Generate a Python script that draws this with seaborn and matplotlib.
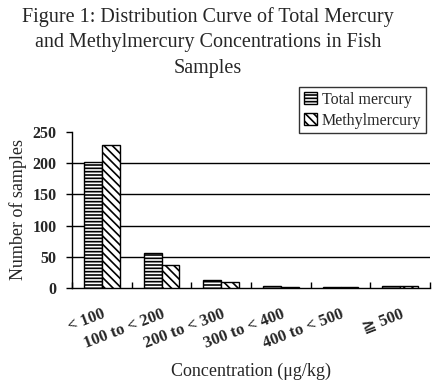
import pandas as pd
import seaborn as sns
import matplotlib.pyplot as plt
from matplotlib.patches import Patch
from matplotlib.ticker import FixedLocator

categories = ["< 100", "100 to < 200", "200 to < 300", "300 to < 400", "400 to < 500", "\u2267 500"]
total_mercury = [202, 56, 13, 3, 1, 3]
methylmercury = [229, 37, 10, 1, 1, 3]
series = ["Total mercury", "Methylmercury"]
hatches = {"Total mercury": "-----", "Methylmercury": "\\\\\\\\"}

sns.set_theme(style="white")
plt.rcParams["font.family"] = ["Liberation Serif", "DejaVu Serif", "DejaVu Sans", "Noto Sans CJK JP"]
plt.rcParams["hatch.linewidth"] = 1.2

df = pd.DataFrame({
    "cat": categories * 2,
    "value": total_mercury + methylmercury,
    "series": [series[0]] * 6 + [series[1]] * 6,
})

fig = plt.figure(figsize=(4.32, 3.87), dpi=100)
ax = fig.add_axes([72 / 432, 1 - 288 / 387, 358 / 432, 156 / 387])

sns.barplot(data=df, x="cat", y="value", hue="series", order=categories,
            hue_order=series, width=0.6, palette=["white", "white"],
            edgecolor="black", linewidth=1.0, saturation=1, ax=ax, legend=False)

for i, bar in enumerate(ax.patches[:12]):
    name = series[i // 6]
    bar.set_hatch(hatches[name])
    bar.set_zorder(3)

ax.set_ylim(0, 250)
ax.set_xlim(-0.5, 5.5)
ax.set_yticks([0, 50, 100, 150, 200, 250])
for yv in [50, 100, 150, 200]:
    ax.axhline(yv, color="black", linewidth=1.0, zorder=1)

ax.spines["top"].set_visible(False)
ax.spines["right"].set_visible(False)
for s in ["left", "bottom"]:
    ax.spines[s].set_color("black")
    ax.spines[s].set_linewidth(1.0)

ax.tick_params(axis="y", which="major", left=True, length=4, width=1, color="black",
               direction="out", labelsize=11.5, pad=7)
for lab in ax.get_yticklabels():
    lab.set_fontweight("bold")

ax.xaxis.set_minor_locator(FixedLocator([-0.5, 0.5, 1.5, 2.5, 3.5, 4.5, 5.5]))
ax.tick_params(axis="x", which="minor", bottom=True, length=4, width=1, color="black",
               direction="in")
ax.tick_params(axis="x", which="major", bottom=False, length=0, pad=13, labelsize=12)
ax.set_xticks(range(6))
ax.set_xticklabels(categories, rotation=21, ha="right", rotation_mode="anchor",
                   fontweight="bold")

ax.set_xlabel("Concentration (\u03bcg/kg)", fontsize=13, labelpad=8)
ax.set_ylabel("Number of samples", fontsize=13, labelpad=4)

title_lines = ["Figure 1: Distribution Curve of Total Mercury",
               "and Methylmercury Concentrations in Fish",
               "Samples"]
for line, ypx in zip(title_lines, [17, 42, 68]):
    fig.text(208 / 432, 1 - ypx / 387, line, ha="center", va="center", fontsize=14.5)

handles = [Patch(facecolor="white", edgecolor="black", hatch=hatches[s], label=s) for s in series]
leg = fig.legend(handles=handles, loc="upper right", bbox_to_anchor=(426 / 432, 1 - 87 / 387),
                 fontsize=11.5, frameon=True, fancybox=False, handlelength=0.8,
                 handleheight=0.8, handletextpad=0.3, borderpad=0.3, labelspacing=0.3,
                 borderaxespad=0)
leg.get_frame().set_edgecolor("black")
leg.get_frame().set_linewidth(1.0)

fig.savefig("out.png", dpi=100)
